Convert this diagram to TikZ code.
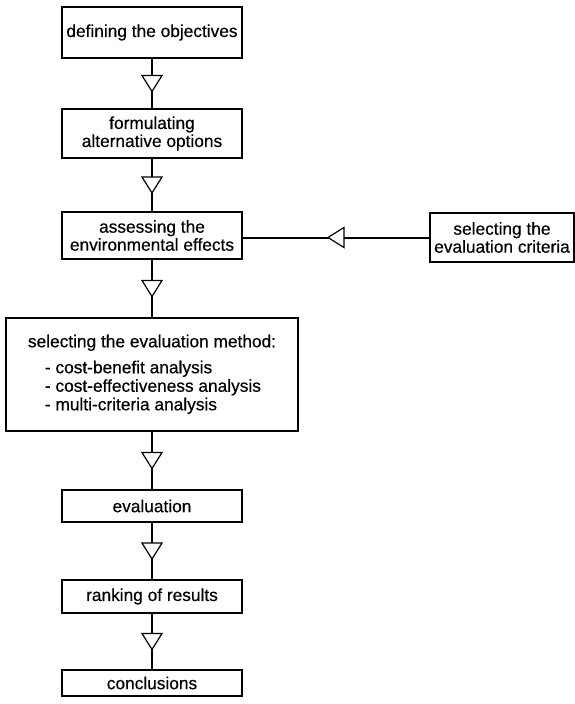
\documentclass[tikz,border=0pt]{standalone}
\usepackage{fontspec}
\setmainfont{Liberation Sans}
\newfontfamily\heavysans[FakeBold=0.4]{Liberation Sans}
\usetikzlibrary{decorations.markings}
\begin{document}
\begin{tikzpicture}[x=1pt,y=-1pt,
  box/.style={draw, line width=1.2pt, rectangle, align=center, inner sep=2pt,
    font=\heavysans\fontsize{17.3}{18}\selectfont},
  flow/.style={line width=2pt, postaction={decorate},
    decoration={markings, mark=at position 0.5 with {
      \draw[line width=1.2pt, fill=white, line join=miter] (8pt,0pt) -- (-8pt,10pt) -- (-8pt,-10pt) -- cycle;}}}
]
\useasboundingbox (0,0) rectangle (575,704);
\node[box, minimum width=180pt, minimum height=51pt] (b1) at (152,32.5) {defining the objectives};
\node[box, minimum width=180pt, minimum height=49pt] (b2) at (152,133.5) {formulating\\alternative options};
\node[box, minimum width=180pt, minimum height=47pt] (b3) at (152,235.5) {assessing the\\environmental effects};
\node[box, minimum width=144pt, minimum height=49pt] (b4) at (502,237.5) {selecting the\\evaluation criteria};
\node[box, align=left, minimum width=292pt, minimum height=113pt, text depth=4pt] (b5) at (152,374.5) {selecting the evaluation method:\\[8pt]
  \hspace*{17pt}- cost-benefit analysis\\[0.5pt]
  \hspace*{17pt}- cost-effectiveness analysis\\[0.5pt]
  \hspace*{17pt}- multi-criteria analysis};
\node[box, minimum width=180pt, minimum height=32pt] (b6) at (152,506) {evaluation};
\node[box, minimum width=180pt, minimum height=33pt] (b7) at (152,596.5) {ranking of results};
\node[box, minimum width=180pt, minimum height=26pt] (b8) at (152,683) {conclusions};
\draw[flow] (b1) -- (b2);
\draw[flow] (b2) -- (b3);
\draw[flow] (b3) -- (b5);
\draw[flow] (b5) -- (b6);
\draw[flow] (b6) -- (b7);
\draw[flow] (b7) -- (b8);
\draw[flow] (b4.west) -- (b4.west -| b3.east);
\end{tikzpicture}
\end{document}
